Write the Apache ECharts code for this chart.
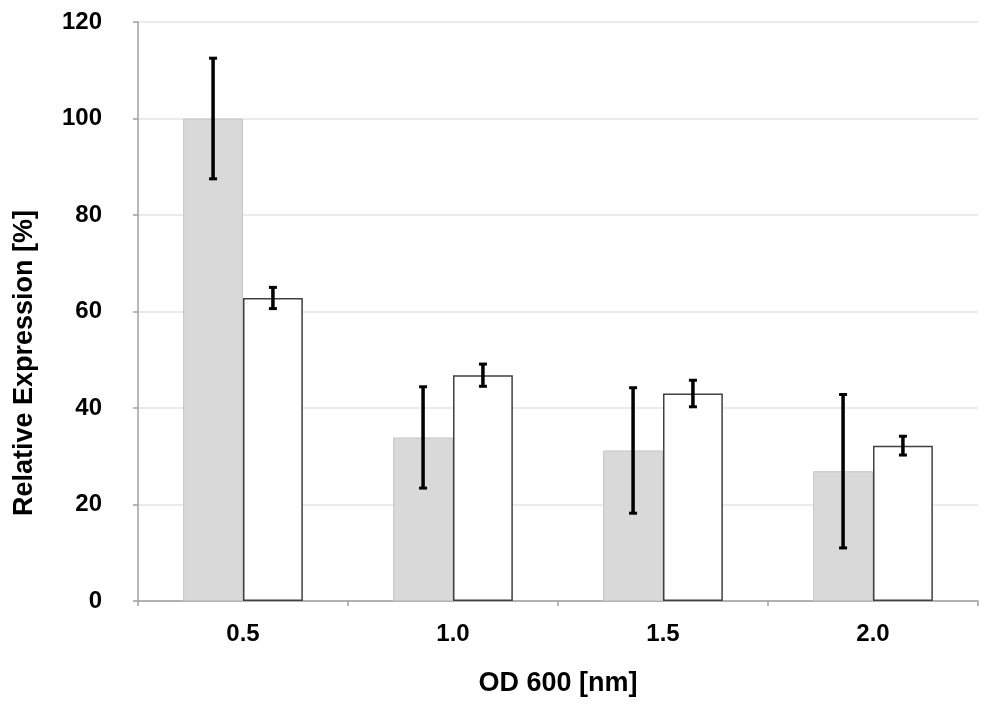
<!DOCTYPE html>
<html>
<head>
<meta charset="utf-8">
<script src="https://cdn.jsdelivr.net/npm/echarts@6/dist/echarts.min.js"></script>
<style>html,body{margin:0;padding:0;background:#fff}#c{width:1000px;height:704px}</style>
</head>
<body>
<div id="c"></div>
<script>
var categories = ['0.5', '1.0', '1.5', '2.0'];
var grayValues = [100, 33.9, 31.2, 26.9];
var grayErrors = [12.5, 10.5, 13.0, 15.9];
var whiteValues = [62.8, 46.8, 43.0, 32.2];
var whiteErrors = [2.2, 2.3, 2.75, 1.95];
var yTicks = [0, 20, 40, 60, 80, 100, 120];

var CAT_GAP = 0.43;
var FONT = 'Liberation Sans, Arial, sans-serif';

function errData(vals, errs, side) {
  return vals.map(function (v, i) { return [i, v, errs[i], side]; });
}

function renderErr(params, api) {
  var i = api.value(0), v = api.value(1), e = api.value(2), side = api.value(3);
  var band = api.size([1, 0])[0];
  var bw = band * (1 - CAT_GAP) / 2;
  var c = api.coord([i, v]);
  var x = c[0] + side * bw / 2;
  var top = api.coord([i, v + e])[1];
  var bot = api.coord([i, v - e])[1];
  var cap = 4;
  var st = { stroke: '#000', lineWidth: 3.5 };
  var st2 = { stroke: '#000', lineWidth: 3 };
  return {
    type: 'group',
    children: [
      { type: 'line', shape: { x1: x, y1: top, x2: x, y2: bot }, style: st },
      { type: 'line', shape: { x1: x - cap, y1: top, x2: x + cap, y2: top }, style: st2 },
      { type: 'line', shape: { x1: x - cap, y1: bot, x2: x + cap, y2: bot }, style: st2 }
    ]
  };
}

var chart = echarts.init(document.getElementById('c'));
chart.setOption({
  animation: false,
  backgroundColor: '#fff',
  grid: { left: 138, right: 22, top: 22, bottom: 103 },
  graphic: [{
    type: 'text',
    left: 11, top: 210,
    rotation: Math.PI / 2,
    style: {
      text: 'Relative Expression [%]',
      fontFamily: FONT, fontWeight: 'bold', fontSize: 27, fill: '#000',
      textAlign: 'center', textVerticalAlign: 'middle'
    }
  }],
  xAxis: {
    type: 'category',
    data: categories,
    name: 'OD 600 [nm]',
    nameLocation: 'middle',
    nameGap: 69,
    nameTextStyle: { fontFamily: FONT, fontWeight: 'bold', fontSize: 27, color: '#000' },
    axisLine: { lineStyle: { color: '#a0a0a0', width: 1.5 } },
    axisTick: { show: true, length: 5, lineStyle: { color: '#a0a0a0', width: 1.5 } },
    axisLabel: { fontFamily: FONT, fontWeight: 'bold', fontSize: 24, color: '#000', margin: 21 },
    splitLine: { show: false }
  },
  yAxis: {
    type: 'value',
    min: 0, max: 120, interval: 20,
    axisLine: { show: true, lineStyle: { color: '#a0a0a0', width: 1.5 } },
    axisTick: { show: true, length: 5, lineStyle: { color: '#a0a0a0', width: 1.5 } },
    axisLabel: {
      fontFamily: FONT, fontWeight: 'bold', fontSize: 24, color: '#000', margin: 36,
      formatter: function (v) { return yTicks.indexOf(v) >= 0 ? String(v) : ''; }
    },
    splitLine: { show: true, lineStyle: { color: '#e4e4e4', width: 1.5 } }
  },
  series: [
    {
      type: 'bar', data: grayValues, barGap: '0%', barCategoryGap: (CAT_GAP * 100) + '%',
      itemStyle: { color: '#d9d9d9', borderColor: '#c6c6c6', borderWidth: 1 }
    },
    {
      type: 'bar', data: whiteValues, barGap: '0%', barCategoryGap: (CAT_GAP * 100) + '%',
      itemStyle: { color: '#ffffff', borderColor: '#404040', borderWidth: 1.5 }
    },
    { type: 'custom', data: errData(grayValues, grayErrors, -1), renderItem: renderErr, z: 10,
      encode: { x: 0, y: 1 } },
    { type: 'custom', data: errData(whiteValues, whiteErrors, 1), renderItem: renderErr, z: 10,
      encode: { x: 0, y: 1 } }
  ]
});
</script>
</body>
</html>
